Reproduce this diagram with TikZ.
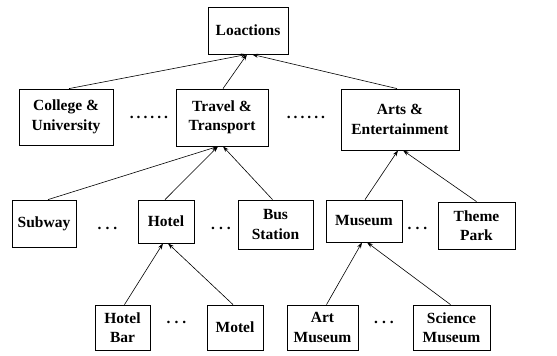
\documentclass[tikz,border=0pt]{standalone}
\usepackage{fontspec}
\setmainfont{Liberation Serif}
\usetikzlibrary{arrows.meta}

\begin{document}
\begin{tikzpicture}[x=1pt,y=-1pt,
  box/.style={draw,line width=0.8pt,align=center,inner sep=2pt,
    font=\fontsize{15.5}{19.5}\selectfont\bfseries},
  dots/.style={inner sep=0pt,font=\fontsize{15.5}{19}\selectfont\bfseries},
  >={Stealth[length=6pt,width=4pt]}]
\useasboundingbox (0,0) rectangle (557,356);

\node[box,minimum width=80pt,minimum height=47pt] (loc) at (248,30.5) {Loactions};

\node[box,minimum width=94pt,minimum height=56pt] (col) at (66,117) {College \&\\University};
\node[box,minimum width=92pt,minimum height=57pt] (tra) at (222,117.5) {Travel \&\\Transport};
\node[box,minimum width=118pt,minimum height=61pt] (art) at (400,119.5) {Arts \&\\Entertainment};
\node[dots] (d1) at (149,117) {.\hspace{3pt}.\hspace{3pt}.\hspace{3pt}.\hspace{3pt}.\hspace{3pt}.};
\node[dots] (d2) at (306,117) {.\hspace{3pt}.\hspace{3pt}.\hspace{3pt}.\hspace{3pt}.\hspace{3pt}.};

\node[box,minimum width=64pt,minimum height=47pt] (sub) at (44,223.5) {Subway};
\node[box,minimum width=56pt,minimum height=43pt] (hot) at (166,221.5) {Hotel};
\node[box,minimum width=75pt,minimum height=49pt] (bus) at (275.5,224.5) {Bus\\Station};
\node[box,minimum width=76pt,minimum height=42pt] (mus) at (364,221) {Museum};
\node[box,minimum width=77pt,minimum height=47pt] (thm) at (476.5,225.5) {Theme\\Park};
\node[dots] (d3) at (107.5,228) {.\hspace{4pt}.\hspace{4pt}.};
\node[dots] (d4) at (221,228) {.\hspace{4pt}.\hspace{4pt}.};
\node[dots] (d5) at (417.5,228) {.\hspace{4pt}.\hspace{4pt}.};

\node[box,minimum width=55pt,minimum height=45pt] (bar) at (122.5,327.5) {Hotel\\Bar};
\node[box,minimum width=56pt,minimum height=45pt] (mot) at (235,327.5) {Motel};
\node[box,minimum width=71pt,minimum height=45pt] (amu) at (322.5,327.5) {Art\\Museum};
\node[box,minimum width=77pt,minimum height=45pt] (smu) at (451.5,327.5) {Science\\Museum};
\node[dots] (d6) at (176.5,322) {.\hspace{4pt}.\hspace{4pt}.};
\node[dots] (d7) at (384,322) {.\hspace{4pt}.\hspace{4pt}.};

% links up the tree
\draw[->,line width=0.6pt] ([xshift=3pt]col.north) -- ([xshift=-1pt]loc.south);
\draw[->,line width=0.6pt] ([xshift=1pt]tra.north) -- ([xshift=-1pt]loc.south);
\draw[->,line width=0.6pt] ([xshift=-3pt]art.north) -- ([xshift=4pt]loc.south);

\draw[->,line width=0.6pt] ([xshift=4pt]sub.north) -- ([xshift=-4pt]tra.south);
\draw[->,line width=0.6pt] ([xshift=-1pt]hot.north) -- ([xshift=-4pt]tra.south);
\draw[->,line width=0.6pt] ([xshift=-3pt]bus.north) -- ([xshift=1pt]tra.south);

\draw[->,line width=0.6pt] ([xshift=1pt]mus.north) -- ([xshift=-2pt]art.south);
\draw[->,line width=0.6pt] (thm.north) -- ([xshift=3pt]art.south);

\draw[->,line width=0.6pt] ([xshift=2pt]bar.north) -- ([xshift=-3pt]hot.south);
\draw[->,line width=0.6pt] ([xshift=-2pt]mot.north) -- ([xshift=2pt]hot.south);

\draw[->,line width=0.6pt] ([xshift=4pt]amu.north) -- ([xshift=-2pt]mus.south);
\draw[->,line width=0.6pt] ([xshift=-1pt]smu.north) -- ([xshift=3pt]mus.south);
\end{tikzpicture}
\end{document}
